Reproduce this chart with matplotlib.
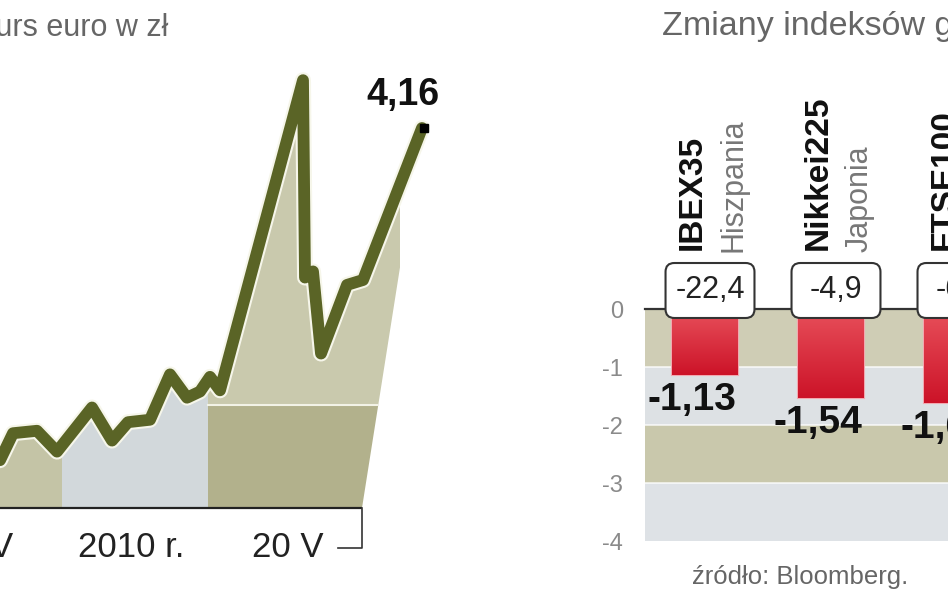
import matplotlib
matplotlib.use("Agg")
import numpy as np
import matplotlib.pyplot as plt
from matplotlib.patches import Rectangle, Polygon, FancyBboxPatch
from matplotlib.colors import LinearSegmentedColormap
import matplotlib.patheffects as pe

plt.rcParams['font.family'] = ['Liberation Sans', 'DejaVu Sans']

# kurs euro w zl
eur_days = [0, 2.6, 7.4, 11.4, 18.4, 22.4, 25.6, 30, 34, 37.4, 40, 42, 44,
            60.6, 61.0, 62.6, 64.2, 69.4, 72.6, 84.4]
eur_rates = [3.889, 3.911, 3.913, 3.896, 3.932, 3.905, 3.920, 3.922, 3.959,
             3.940, 3.945, 3.957, 3.946, 4.199, 4.038, 4.043, 3.976, 4.032,
             4.036, 4.160]
eur_last = 4.16
tick_days = [-5.5, 26.2, 57.6]
tick_labels = ['20 IV', '2010 r.', '20 V']

# indeksy gieldowe
indices = ['IBEX35', 'Nikkei225', 'FTSE100']
countries = ['Hiszpania', 'Japonia', 'W. Brytania']
index_change = [-22.4, -4.9, -6.2]
index_values = [-1.13, -1.54, -1.62]

def pl(v, d):
    return f"{v:.{d}f}".replace('.', ',')

W, H = 948, 593
fig = plt.figure(figsize=(W / 100, H / 100), dpi=100)

# ---------- lewy wykres: kurs euro ----------
k = 0.0008158          # zl na piksel
base = 3.85
ax = fig.add_axes([0, 0, 474 / W, 1])
ax.set_xlim(0, 94.8)
ax.set_ylim(base - 85 * k, base + 508 * k)
ax.axis('off')

x_end = 72.4
poly = Polygon([(-2, base), (-2, eur_rates[0])] + list(zip(eur_days, eur_rates)) + [(x_end, base)],
               closed=True, fill=False, edgecolor='none')
ax.add_patch(poly)

split = 3.934
bands = [(-2, 12.4, base, 4.3, '#c4c4a6'),
         (12.4, 41.6, base, 4.3, '#d2d8db'),
         (41.6, 80, base, split, '#b2b18c'),
         (41.6, 80, split, 4.3, '#c9c9ad')]
for x0, x1, y0, y1, c in bands:
    r = Rectangle((x0, y0), x1 - x0, y1 - y0, facecolor=c, edgecolor='none', zorder=1)
    ax.add_patch(r)
    r.set_clip_path(poly)
wl, = ax.plot([41.6, 80], [split, split], color='#f2f2e6', lw=1.5, zorder=2)
wl.set_clip_path(poly)

ax.plot(eur_days, eur_rates, color='#5a6426', lw=8.5, solid_joinstyle='round',
        solid_capstyle='round', zorder=4,
        path_effects=[pe.Stroke(linewidth=11.5, foreground='#f6f6ea'), pe.Normal()])
ax.plot([eur_days[-1] + 0.3], [eur_last], marker='s', color='black', ms=6, zorder=5)
ax.text(80.6, 4.187, pl(eur_last, 2), fontsize=27, fontweight='bold',
        ha='center', va='center', color='#111111')

# os x z nawiasem
ax.plot([-1, x_end], [base, base], color='#222222', lw=1.6, zorder=5, solid_capstyle='butt')
ax.plot([x_end, x_end, 67.6], [base, 3.8174, 3.8174], color='#333333', lw=1.2, zorder=5)
for d, t in zip(tick_days, tick_labels):
    ax.text(d, 3.8174, t, fontsize=25, ha='center', va='center', color='#222222')

fig.text(168 / W, 1 - 36 / H, 'Kurs euro w zł', fontsize=22, color='#666666',
         ha='right', va='baseline')

# ---------- prawy wykres: indeksy ----------
ax2 = fig.add_axes([645 / W, (H - 541) / H, 303 / W, 232 / H])
ax2.set_xlim(-0.476, 1.929)
ax2.set_ylim(-4, 0)
band_cols = ['#cfcdb5', '#dde1e4', '#c9c8ac', '#dee2e6']
for i, c in enumerate(band_cols):
    ax2.axhspan(-i - 1, -i, color=c, lw=0, zorder=0)
for yv in [-1, -2, -3]:
    ax2.axhline(yv, color='white', lw=1.2, alpha=0.8, zorder=1)
for s in ax2.spines.values():
    s.set_visible(False)
ax2.set_xticks([])
ax2.set_yticks([0, -1, -2, -3, -4])
ax2.set_yticklabels(['0', '-1', '-2', '-3', '-4'])
ax2.tick_params(axis='y', length=0, pad=16, labelsize=17, labelcolor='#8a8a8a')

pos = np.arange(len(indices))
cmap = LinearSegmentedColormap.from_list('red', ['#cc1328', '#e8505b'])
bars = ax2.bar(pos, index_values, width=0.52, color='#dc2a3a',
               edgecolor='#f2a8b0', lw=1.5, zorder=3)
grad = np.linspace(0, 1, 100).reshape(-1, 1)
for b, v in zip(bars, index_values):
    x0 = b.get_x()
    im = ax2.imshow(grad, extent=[x0, x0 + b.get_width(), v, 0], origin='lower',
                    aspect='auto', cmap=cmap, zorder=3.5)
    im.set_clip_path(b)
ax2.set_xlim(-0.476, 1.929)
ax2.set_ylim(-4, 0)

ax2.axhline(0, color='#333333', lw=1.6, zorder=4, clip_on=False)

for p, name, country, ch, v in zip(pos, indices, countries, index_change, index_values):
    box = FancyBboxPatch((p + 0.04 - 0.353, -0.155), 0.706, 0.948,
                         boxstyle='round,pad=0,rounding_size=0.07', mutation_aspect=2.17,
                         fc='white', ec='#333333', lw=1.5, zorder=6, clip_on=False)
    ax2.add_patch(box)
    ax2.text(p + 0.04, 0.32, pl(ch, 1), fontsize=22, ha='center', va='center',
             color='#222222', zorder=7, clip_on=False)
    ax2.text(p - 0.1, 1.02, name, rotation=90, fontsize=24, fontweight='bold',
             ha='center', va='bottom', color='#111111', clip_on=False)
    ax2.text(p + 0.23, 0.98, country, rotation=90, fontsize=22,
             ha='center', va='bottom', color='#777777', clip_on=False)
    ax2.text(p - 0.1, v - 0.12, pl(v, 2), fontsize=28, fontweight='bold',
             ha='center', va='top', color='#111111', zorder=7, clip_on=False)

fig.text(662 / W, 1 - 35 / H, 'Zmiany indeksów giełdowych', fontsize=24.5,
         color='#666666', ha='left', va='baseline')
fig.text(692 / W, 1 - 577 / H, 'źródło: Bloomberg.', fontsize=18.5,
         color='#666666', ha='left', va='center')

fig.savefig('out.png', dpi=100)
